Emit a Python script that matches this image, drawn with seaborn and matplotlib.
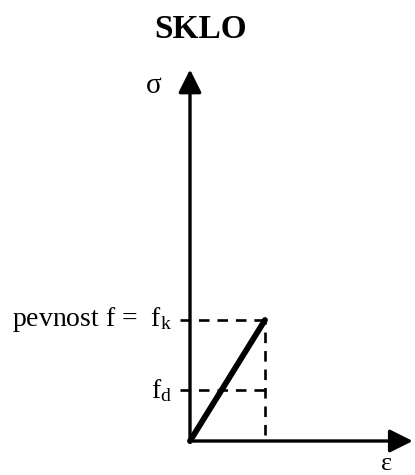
import matplotlib
matplotlib.use('Agg')
import matplotlib.pyplot as plt
import seaborn as sns
import pandas as pd

# stress-strain diagram for glass (linear up to f_k)
eps = [0.0, 1.0]
sigma = [0.0, 1.0]
f_k = 1.0
f_d = 0.42
eps_max = 2.97
sigma_max = 3.07

title = 'SKLO'
label_fk = r'pevnost f =  f$_{\mathrm{k}}$'
label_fd = r'f$_{\mathrm{d}}$'

sns.set_style('white')
plt.rcParams['font.family'] = ['Liberation Serif', 'DejaVu Serif']
plt.rcParams['text.color'] = 'black'
plt.rcParams['mathtext.fontset'] = 'custom'
plt.rcParams['mathtext.rm'] = 'Liberation Serif'
plt.rcParams['mathtext.it'] = 'Liberation Serif:italic'

fig = plt.figure(figsize=(4.15, 4.75), dpi=100)
ax = fig.add_axes([0, 0, 1, 1])
ax.set_xlim(-190 / 75, 225 / 75)
ax.set_ylim(-34 / 121, 441 / 121)
ax.axis('off')

df = pd.DataFrame({'eps': eps, 'sigma': sigma})
sns.lineplot(data=df, x='eps', y='sigma', ax=ax, color='black', linewidth=4.2,
             solid_capstyle='round')

# dashed helper lines
ax.plot([-0.13, eps[-1]], [f_k, f_k], color='black', lw=1.9, ls=(0, (4, 3)))
ax.plot([-0.13, eps[-1]], [f_d, f_d], color='black', lw=1.9, ls=(0, (4, 3)))
ax.plot([eps[-1], eps[-1]], [0.05, f_k], color='black', lw=1.9, ls=(0, (4, 3)))

# axes with arrows
arrow = dict(arrowstyle='-|>,head_length=0.7,head_width=0.35', mutation_scale=20,
             color='black', lw=2.4, shrinkA=0, shrinkB=0)
ax.annotate('', xy=(0, sigma_max), xytext=(0, -0.01), arrowprops=arrow)
ax.annotate('', xy=(eps_max, 0), xytext=(-0.01, 0), arrowprops=arrow)

ax.text(-0.24, f_k, label_fk, ha='right', va='center', fontsize=20)
ax.text(-0.24, f_d, label_fd, ha='right', va='center', fontsize=20)
ax.text(-0.48, 2.93, 'σ', ha='center', va='center', fontsize=21)
ax.text(2.62, -0.19, 'ε', ha='center', va='center', fontsize=19)

fig.text(201 / 415, 1 - 29 / 475, title, ha='center', va='center',
         fontsize=24, fontweight='bold')

fig.savefig('out.png', dpi=100, facecolor='white')
